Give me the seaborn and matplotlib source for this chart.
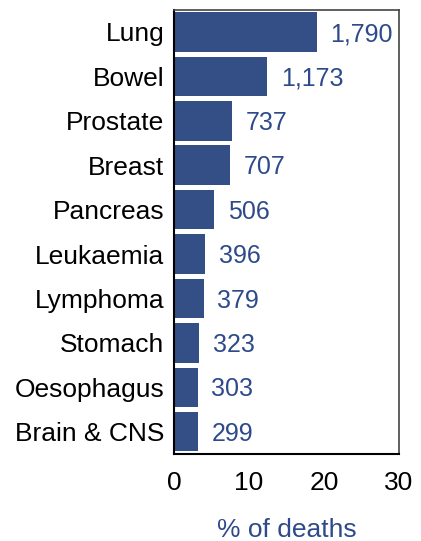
import pandas as pd
import matplotlib
matplotlib.use("Agg")
import matplotlib.pyplot as plt
import seaborn as sns

sns.set_style("white")
plt.rcParams['font.family'] = ['Liberation Sans', 'DejaVu Sans']

cancers = ["Lung", "Bowel", "Prostate", "Breast", "Pancreas", "Leukaemia",
           "Lymphoma", "Stomach", "Oesophagus", "Brain & CNS"]
pct_deaths = [19.0, 12.45, 7.8, 7.5, 5.4, 4.2, 4.0, 3.4, 3.2, 3.2]
deaths = [1790, 1173, 737, 707, 506, 396, 379, 323, 303, 299]

bar_col = "#344F85"
text_col = "#2E4A8A"

df = pd.DataFrame({"cancer": cancers, "pct": pct_deaths, "deaths": deaths})

fig = plt.figure(figsize=(4.21, 5.41), dpi=100)
ax = fig.add_axes([0.413, 0.161, 0.535, 0.821])

sns.barplot(data=df, x="pct", y="cancer", orient="h", color=bar_col,
            saturation=1, width=0.89, linewidth=0, ax=ax)

for i, (p, d) in enumerate(zip(pct_deaths, deaths)):
    ax.text(p + 1.8, i + 0.05, f"{d:,}", va="center", ha="left",
            color=text_col, fontsize=18)

ax.set_xlim(0, 30)
ax.set_ylim(9.5, -0.5)
ax.set_xticks([0, 10, 20, 30])
ax.set_xlabel("% of deaths", color=text_col, fontsize=19, labelpad=17)
ax.set_ylabel("")
ax.tick_params(axis="x", labelsize=19, colors="black", direction="in", length=4, pad=12)
ax.tick_params(axis="y", labelsize=19, labelcolor="black", length=0, pad=7)

for side in ["left", "bottom"]:
    ax.spines[side].set_color("black")
    ax.spines[side].set_linewidth(1.5)
for side in ["top", "right"]:
    ax.spines[side].set_color("#444444")
    ax.spines[side].set_linewidth(1.2)

fig.savefig("out.png", dpi=100)
